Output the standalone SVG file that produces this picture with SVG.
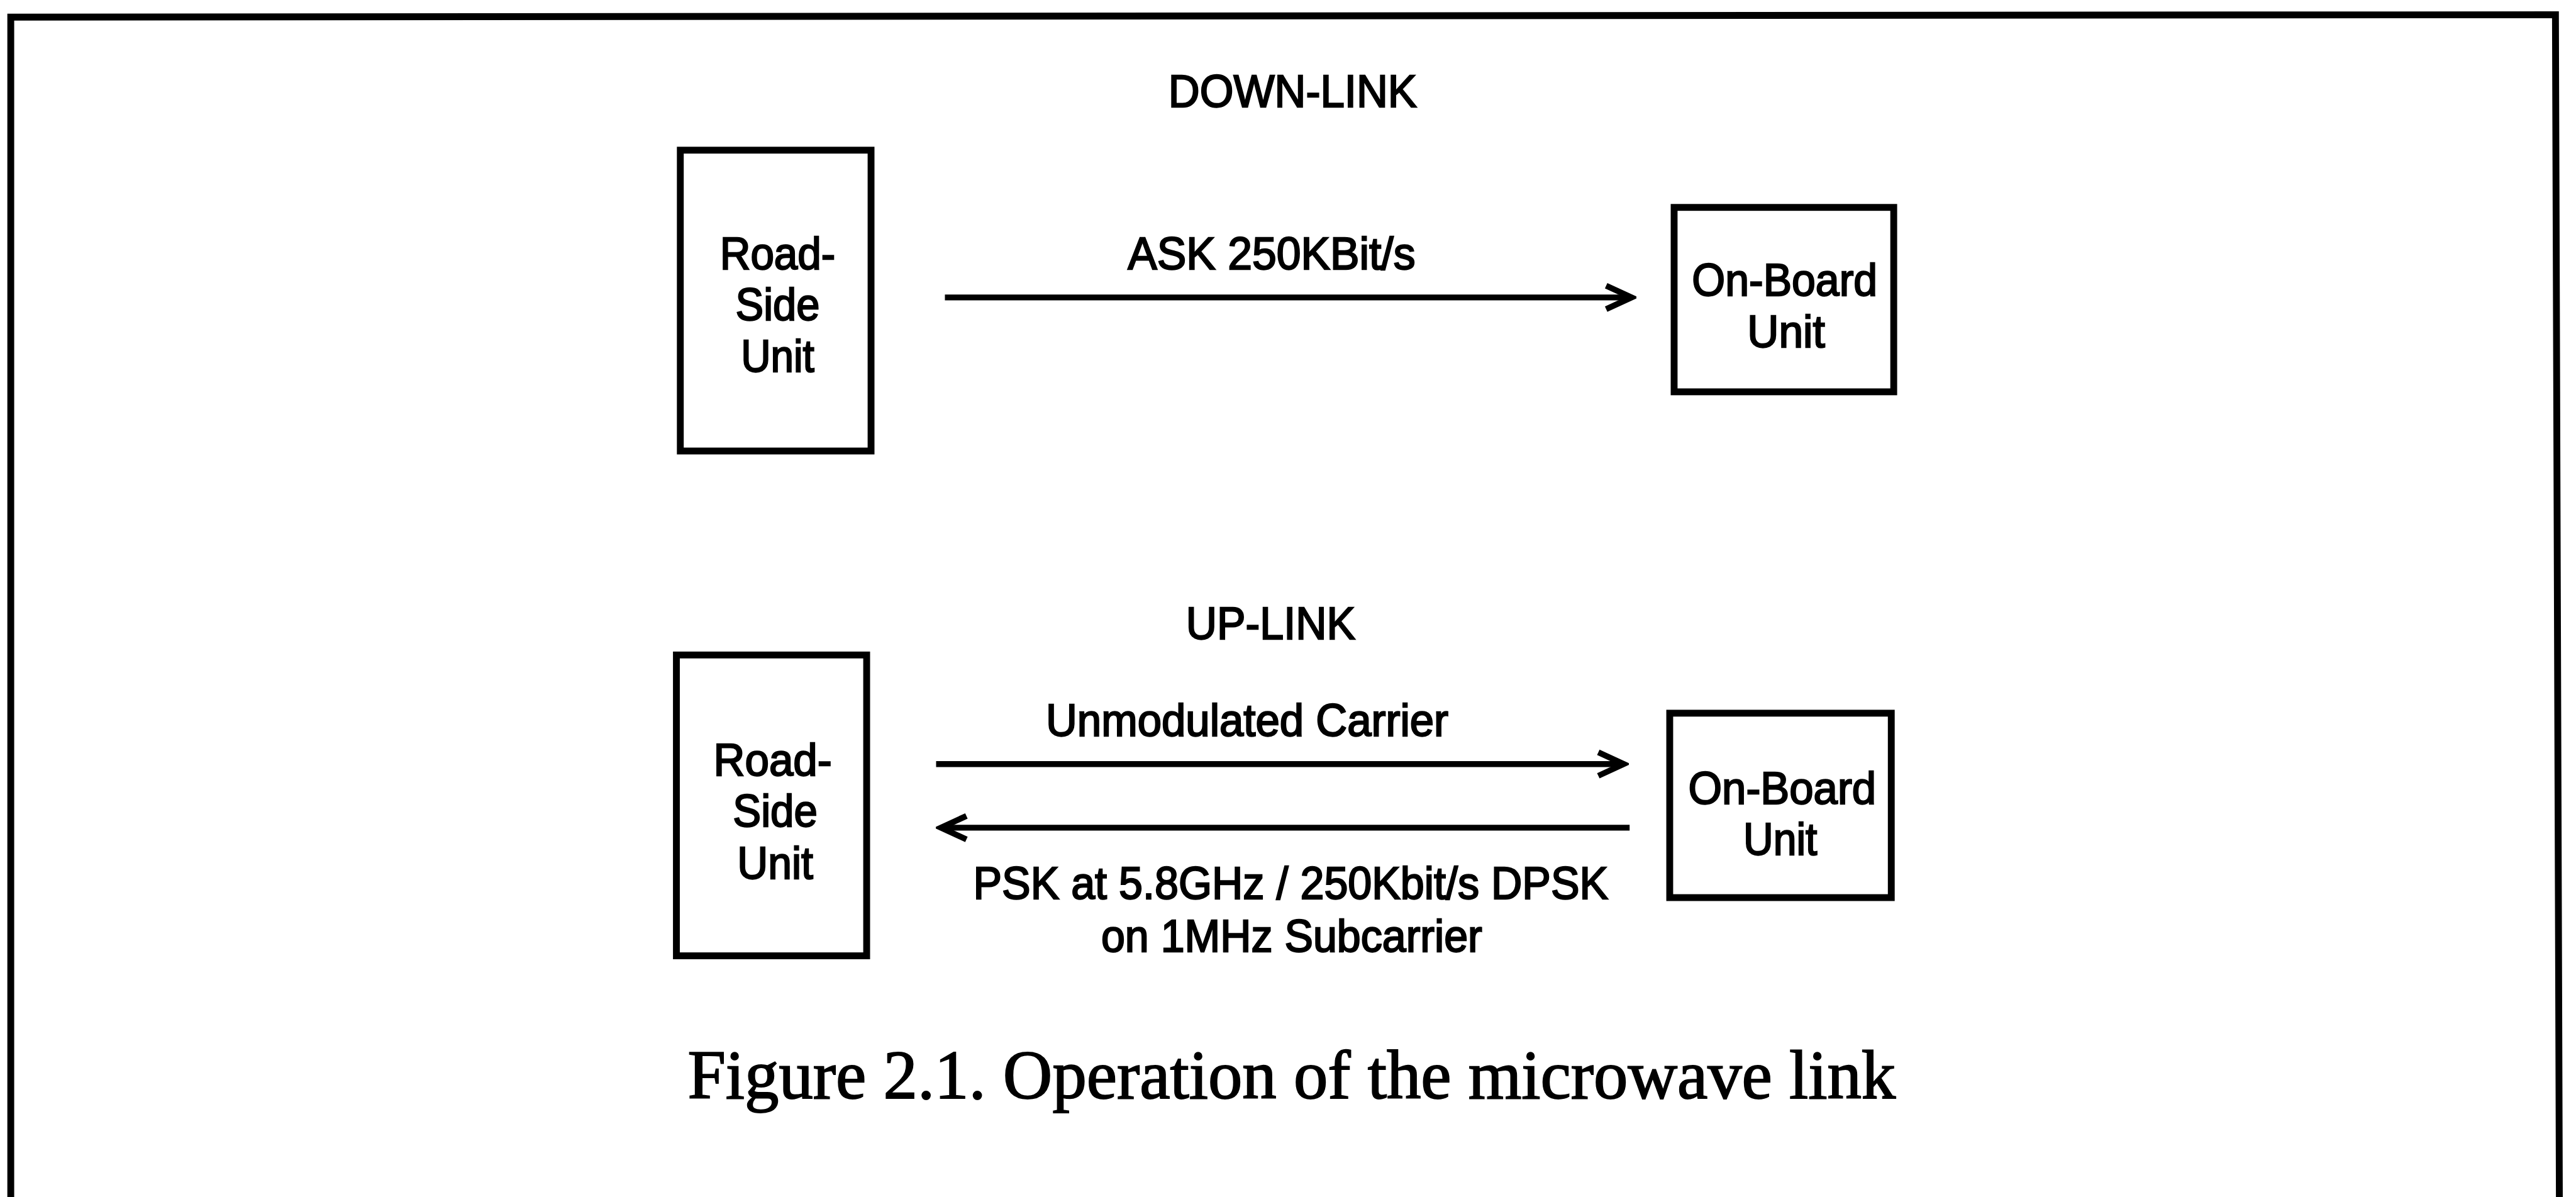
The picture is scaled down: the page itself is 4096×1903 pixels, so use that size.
<svg xmlns="http://www.w3.org/2000/svg" width="4096" height="1903" viewBox="0 0 4096 1903">
  <style>
    .box { fill: #ffffff; stroke: #000000; stroke-width: 14; stroke-linejoin: miter; }
    .wire { fill: none; stroke: #000000; stroke-width: 12; }
    .lbl { font-family: "Liberation Sans", Arial, sans-serif; font-size: 92px; fill: #000000; stroke: #000000; stroke-width: 3; text-anchor: middle; }
    .cap { font-family: "Liberation Serif", "Times New Roman", serif; font-size: 142px; fill: #000000; stroke: #000000; stroke-width: 2.5; text-anchor: middle; }
  </style>
  <defs>
    <marker id="head" markerUnits="userSpaceOnUse" viewBox="-70 -40 80 80" refX="0" refY="0" markerWidth="80" markerHeight="80" orient="auto">
      <path d="M -52 -24 L 0 0 L -52 24" fill="none" stroke="#000000" stroke-width="12" stroke-linejoin="miter"/>
    </marker>
  </defs>
  <rect x="0" y="0" width="4096" height="1903" fill="#ffffff"/>
  <!-- drawing laid out in source units, scaled to the window -->
  <g transform="scale(0.77767)">
    <!-- outer frame, open at the bottom -->
    <path id="frame" d="M 22 2447 L 22 35 L 5225 30 L 5233 2447" fill="none" stroke="#000000" stroke-width="14"/>

    <text id="title-down" class="lbl" x="2643" y="218" textLength="508" lengthAdjust="spacingAndGlyphs">DOWN-LINK</text>
    <text id="title-up" class="lbl" x="2598" y="1306" textLength="346" lengthAdjust="spacingAndGlyphs">UP-LINK</text>

    <!-- down-link nodes -->
    <g id="rsu-down">
      <rect class="box" x="1391" y="307" width="390" height="615"/>
      <text class="lbl" x="1590" y="550" textLength="236" lengthAdjust="spacingAndGlyphs">Road-</text>
      <text class="lbl" x="1590" y="655" textLength="172" lengthAdjust="spacingAndGlyphs">Side</text>
      <text class="lbl" x="1590" y="760" textLength="150" lengthAdjust="spacingAndGlyphs">Unit</text>
    </g>
    <g id="obu-down">
      <rect class="box" x="3423" y="424" width="449" height="377"/>
      <text class="lbl" x="3649" y="604" textLength="379" lengthAdjust="spacingAndGlyphs">On-Board</text>
      <text class="lbl" x="3652" y="710" textLength="159" lengthAdjust="spacingAndGlyphs">Unit</text>
    </g>

    <!-- up-link nodes -->
    <g id="rsu-up">
      <rect class="box" x="1383" y="1339" width="389" height="615"/>
      <text class="lbl" x="1580" y="1586" textLength="242" lengthAdjust="spacingAndGlyphs">Road-</text>
      <text class="lbl" x="1585" y="1690" textLength="173" lengthAdjust="spacingAndGlyphs">Side</text>
      <text class="lbl" x="1585" y="1796" textLength="155" lengthAdjust="spacingAndGlyphs">Unit</text>
    </g>
    <g id="obu-up">
      <rect class="box" x="3414" y="1458" width="453" height="377"/>
      <text class="lbl" x="3644" y="1643" textLength="384" lengthAdjust="spacingAndGlyphs">On-Board</text>
      <text class="lbl" x="3640" y="1748" textLength="151" lengthAdjust="spacingAndGlyphs">Unit</text>
    </g>

    <!-- links and their labels -->
    <g id="connectors">
      <line class="wire" x1="1932" y1="608" x2="3336" y2="608" marker-end="url(#head)"/>
      <line class="wire" x1="1914" y1="1562" x2="3320" y2="1562" marker-end="url(#head)"/>
      <line class="wire" x1="3332" y1="1692" x2="1924" y2="1692" marker-end="url(#head)"/>
      <text class="lbl" x="2600" y="550" textLength="588" lengthAdjust="spacingAndGlyphs">ASK 250KBit/s</text>
      <text class="lbl" x="2550" y="1505" textLength="823" lengthAdjust="spacingAndGlyphs">Unmodulated Carrier</text>
      <text class="lbl" x="2639" y="1838" textLength="1298" lengthAdjust="spacingAndGlyphs">PSK at 5.8GHz / 250Kbit/s DPSK</text>
      <text class="lbl" x="2641" y="1945" textLength="779" lengthAdjust="spacingAndGlyphs">on 1MHz Subcarrier</text>
    </g>

    <text id="caption" class="cap" x="2641" y="2245" textLength="2470" lengthAdjust="spacingAndGlyphs">Figure 2.1. Operation of the microwave link</text>
  </g>
</svg>
